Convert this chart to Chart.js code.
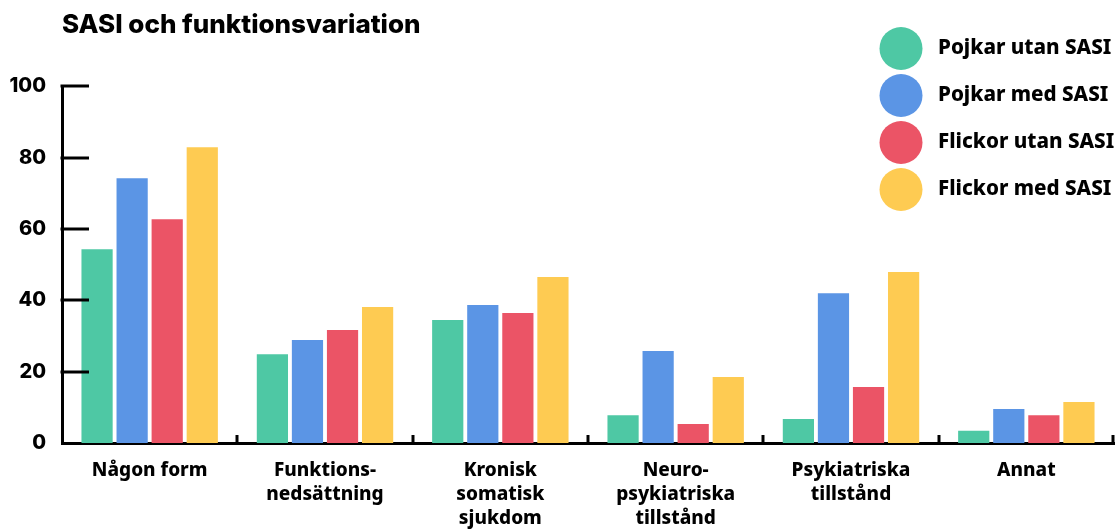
<!DOCTYPE html>
<html>
<head>
<meta charset="utf-8">
<script src="https://cdn.jsdelivr.net/npm/chart.js@4/dist/chart.umd.min.js"></script>
<style>
  html, body { margin: 0; padding: 0; background: #fff; }
  #wrap { width: 1116px; height: 531px; }
</style>
</head>
<body>
<div id="wrap"><canvas id="c" width="1116" height="531"></canvas></div>
<script>
const title = 'SASI och funktionsvariation';
const categories = [
  'Någon form',
  ['Funktions-', 'nedsättning'],
  ['Kronisk', 'somatisk', 'sjukdom'],
  ['Neuro-', 'psykiatriska', 'tillstånd'],
  ['Psykiatriska', 'tillstånd'],
  'Annat'
];
const seriesNames = ['Pojkar utan SASI', 'Pojkar med SASI', 'Flickor utan SASI', 'Flickor med SASI'];
const pojkarUtan = [54.3, 24.9, 34.5, 7.8, 6.7, 3.4];
const pojkarMed = [74.2, 28.9, 38.7, 25.8, 42.0, 9.5];
const flickorUtan = [62.7, 31.7, 36.4, 5.3, 15.7, 7.8];
const flickorMed = [82.9, 38.1, 46.5, 18.5, 47.9, 11.5];
const yTicks = [0, 20, 40, 60, 80, 100];
const colors = ['#4ec8a4', '#5b95e5', '#eb5466', '#fecb52'];

const seriesValues = [pojkarUtan, pojkarMed, flickorUtan, flickorMed];

const axisDecor = {
  id: 'axisDecor',
  afterDatasetsDraw(chart) {
    const { ctx, chartArea, scales } = chart;
    const x = scales.x, y = scales.y;
    ctx.save();
    ctx.strokeStyle = '#000';
    ctx.lineWidth = 3;
    ctx.lineCap = 'butt';
    yTicks.forEach(v => {
      if (v === 0) return;
      const py = Math.round(y.getPixelForValue(v));
      ctx.beginPath();
      ctx.moveTo(chartArea.left - 1.5, py);
      ctx.lineTo(chartArea.left + 27, py);
      ctx.stroke();
    });
    const n = categories.length;
    for (let i = 1; i <= n; i++) {
      const px = i < n ? (x.getPixelForValue(i - 1) + x.getPixelForValue(i)) / 2 : chartArea.right - 1;
      ctx.beginPath();
      ctx.moveTo(Math.round(px), chartArea.bottom + 1.5);
      ctx.lineTo(Math.round(px), chartArea.bottom - 8);
      ctx.stroke();
    }
    ctx.restore();
  },
  afterDraw(chart) {
    const { ctx } = chart;
    ctx.save();
    const textX = chart.width - 178;
    const circleX = textX - 37;
    ctx.font = '800 20.6px "Noto Sans"';
    ctx.textBaseline = 'middle';
    ctx.textAlign = 'left';
    chart.data.datasets.forEach((ds, i) => {
      const cy = 48.5 + i * 47;
      ctx.fillStyle = ds.backgroundColor;
      ctx.beginPath();
      ctx.arc(circleX, cy, 21.5, 0, Math.PI * 2);
      ctx.fill();
      ctx.fillStyle = '#000';
      ctx.fillText(ds.label, textX, cy);
    });
    ctx.restore();
  }
};

new Chart(document.getElementById('c'), {
  type: 'bar',
  data: {
    labels: categories,
    datasets: seriesNames.map((name, i) => ({
      label: name,
      data: seriesValues[i],
      backgroundColor: colors[i],
      borderWidth: 0,
      categoryPercentage: 0.8,
      barPercentage: 0.89
    }))
  },
  options: {
    responsive: false,
    animation: false,
    layout: { padding: { left: 8, right: 2, top: 0, bottom: 0 } },
    plugins: {
      legend: { display: false },
      tooltip: { enabled: false },
      title: {
        display: true,
        text: title,
        align: 'start',
        fullSize: false,
        color: '#000',
        font: { family: 'Inter', weight: '800', size: 26 },
        padding: { top: 10, bottom: 45 }
      }
    },
    scales: {
      x: {
        grid: { display: false, drawTicks: false },
        border: { display: true, color: '#000', width: 3 },
        ticks: {
          color: '#000',
          padding: 15,
          maxRotation: 0,
          autoSkip: false,
          font: { family: 'Noto Sans', weight: '800', size: 19, lineHeight: 1.28 }
        },
        afterFit(scale) { scale.height = 88; }
      },
      y: {
        min: 0,
        max: 100,
        afterBuildTicks(scale) { scale.ticks = yTicks.map(v => ({ value: v })); },
        grid: { display: false, drawTicks: false },
        border: { display: true, color: '#000', width: 3 },
        ticks: {
          color: '#000',
          padding: 16,
          font: { family: 'Inter', weight: '800', size: 20 }
        },
        afterFit(scale) { scale.width = 54; }
      }
    }
  },
  plugins: [axisDecor]
});
</script>
</body>
</html>
